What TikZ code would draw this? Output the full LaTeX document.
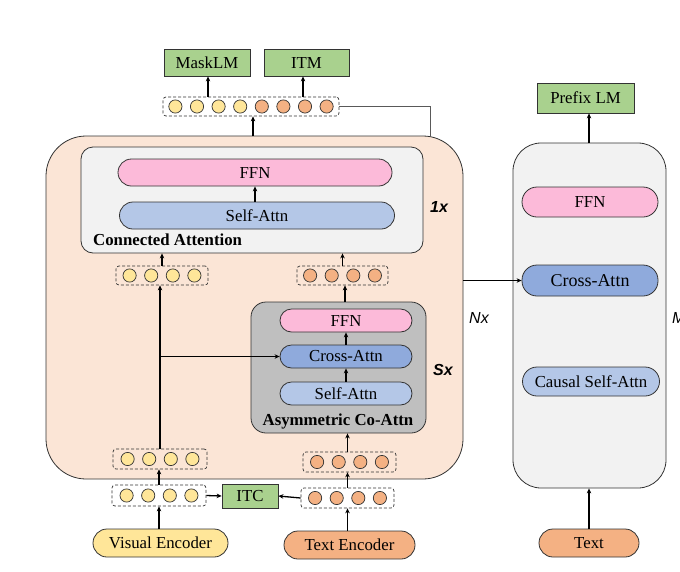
\documentclass[tikz,border=0pt]{standalone}
\usepackage{fontspec}
\setmainfont{Liberation Serif}
\newfontfamily\arialf{Liberation Sans}
\usetikzlibrary{arrows.meta,calc}
\definecolor{salmon}{HTML}{FBE5D6}
\definecolor{lgray}{HTML}{F2F2F2}
\definecolor{mgray}{HTML}{BFBFBF}
\definecolor{pinkc}{HTML}{FCBAD9}
\definecolor{lblue}{HTML}{B4C7E7}
\definecolor{mblue}{HTML}{8FAADC}
\definecolor{grn}{HTML}{A9D18E}
\definecolor{yel}{HTML}{FFE699}
\definecolor{org}{HTML}{F4B183}
\definecolor{edge}{HTML}{333333}
\begin{document}
\begin{tikzpicture}[x=1pt,y=-1pt,
  box/.style={draw=edge, line width=0.8pt, inner sep=0pt, font=\fontsize{16.8}{19}\selectfont},
  sqbox/.style={box, fill=grn},
  pill/.style={box, rounded corners=#1},
  tokrow/.style={draw=edge, line width=0.7pt, dash pattern=on 3pt off 2pt, rounded corners=3pt, inner sep=0pt},
  tok/.style={draw=edge, line width=0.7pt},
  arr/.style={line width=1.3pt, -{Stealth[length=5pt,width=4.5pt]}},
  lbl/.style={font=\bfseries\fontsize{16.8}{19}\selectfont, inner sep=0pt},
  rep/.style={font=\arialf\bfseries\itshape\fontsize{16}{19}\selectfont, inner sep=0pt}
]
\useasboundingbox (0,0) rectangle (680,571);

% ---------- outer blocks ----------
\node[pill=40pt, fill=salmon, minimum width=417pt, minimum height=343pt] (outer) at (254.5,307.5) {};
\node[pill=28pt, fill=lgray, minimum width=153pt, minimum height=345pt] (panel) at (589.5,315.5) {};

% ---------- connected attention ----------
\node[pill=12pt, fill=lgray, minimum width=342pt, minimum height=106pt] (cabox) at (252,200) {};
\node[pill=13.5pt, fill=pinkc, minimum width=274pt, minimum height=27pt] (ffn1) at (255,172.5) {FFN};
\node[pill=13.5pt, fill=lblue, minimum width=275pt, minimum height=27pt] (sa1) at (257,215.5) {Self-Attn};
\node[lbl, anchor=west] (calbl) at (93,239.5) {Connected Attention};
\node[rep] (onex) at (439,207) {1x};

% ---------- asymmetric co-attn ----------
\node[pill=15pt, fill=mgray, minimum width=175pt, minimum height=131pt] (cobox) at (338.5,367.5) {};
\node[pill=11.5pt, fill=pinkc, minimum width=132pt, minimum height=23pt] (ffn2) at (346,320.5) {FFN};
\node[pill=11.5pt, fill=mblue, minimum width=132pt, minimum height=23pt] (ca2) at (346,356.5) {Cross-Attn};
\node[pill=11.5pt, fill=lblue, minimum width=132pt, minimum height=23pt] (sa2) at (346,393.5) {Self-Attn};
\node[lbl] (colbl) at (338,421) {Asymmetric Co-Attn};
\node[rep] (sx) at (443,370) {Sx};
\node[font=\arialf\itshape\fontsize{16}{19}\selectfont, inner sep=0pt] (nx) at (479,318) {Nx};
\node[font=\arialf\itshape\fontsize{16}{19}\selectfont, inner sep=0pt, anchor=west] (mx) at (672,318) {Mx};

% ---------- right panel ----------
\node[pill=15pt, fill=pinkc, minimum width=136pt, minimum height=30pt] (ffn3) at (590,202) {FFN};
\node[pill=15pt, fill=mblue, minimum width=136pt, minimum height=31pt, font=\fontsize{18}{20}\selectfont] (ca3) at (590,280.5) {Cross-Attn};
\node[pill=14.5pt, fill=lblue, minimum width=137pt, minimum height=29pt] (csa3) at (591,381.5) {Causal Self-Attn};
\node[sqbox, minimum width=97pt, minimum height=30pt] (prefix) at (585.5,98) {Prefix LM};
\node[pill=14pt, fill=org, minimum width=100pt, minimum height=28pt] (text) at (589,543) {Text};

% ---------- heads ----------
\node[sqbox, minimum width=86pt, minimum height=27pt] (mlm) at (207,62.5) {MaskLM};
\node[sqbox, minimum width=85pt, minimum height=27pt] (itm) at (306.5,62.5) {ITM};
\node[sqbox, minimum width=56pt, minimum height=24pt] (itc) at (250,496) {ITC};

% ---------- encoders ----------
\node[pill=14pt, fill=yel, minimum width=135pt, minimum height=28pt] (venc) at (160.5,543) {Visual Encoder};
\node[pill=14pt, fill=org, minimum width=131pt, minimum height=28pt] (tenc) at (349.5,545) {Text Encoder};

% ---------- token rows ----------
\node[tokrow, minimum width=176pt, minimum height=19pt] (top) at (251,106.5) {};
\foreach \o/\c in {-75.6/yel,-54/yel,-32.4/yel,-10.8/yel,10.8/org,32.4/org,54/org,75.6/org}
  \draw[tok, fill=\c] ($(top)+(\o,0)$) circle (6.6);

\node[tokrow, minimum width=92pt, minimum height=19pt] (l2) at (162,275.5) {};
\node[tokrow, minimum width=91pt, minimum height=19pt] (r2) at (342.5,275.5) {};
\node[tokrow, minimum width=94pt, minimum height=20pt] (l1) at (160,459) {};
\node[tokrow, minimum width=93pt, minimum height=20pt] (r1) at (349.5,462) {};
\node[tokrow, minimum width=94pt, minimum height=21pt] (l0) at (159,495.5) {};
\node[tokrow, minimum width=93pt, minimum height=20pt] (r0) at (347.5,498) {};
\foreach \n in {l2,l1,l0}
  \foreach \o in {-32.4,-10.8,10.8,32.4}
    \draw[tok, fill=yel] ($(\n)+(\o,0)$) circle (6.6);
\foreach \n in {r2,r1,r0}
  \foreach \o in {-32.4,-10.8,10.8,32.4}
    \draw[tok, fill=org] ($(\n)+(\o,0)$) circle (6.6);

% ---------- connectors ----------
\draw[arr] (venc.north -| l0.south) -- (l0.south);
\draw[arr] (l0.north) -- (l0.north |- l1.south);
\draw[arr] (tenc.north -| r0.south) -- (r0.south);
\draw[arr] (r0.north) -- (r0.north |- r1.south);
\draw[arr] (l0.east) -- (itc.west);
\draw[arr] (r0.west) -- (itc.east);

\draw[arr] (l1.north) -- (l1.north |- l2.south);
\draw[arr] (l1.north |- ca2.west) -- (ca2.west);
\coordinate (r1up) at (347.5,452);
\draw[arr] (r1up) -- (r1up |- cobox.south);
\draw[arr] (sa2.north) -- (ca2.south);
\draw[arr] (ca2.north) -- (ffn2.south);
\coordinate (coup) at (345,302);
\draw[arr] (coup) -- (coup |- r2.south);

\draw[arr] (l2.north) -- (l2.north |- cabox.south);
\draw[arr] (r2.north) -- (r2.north |- cabox.south);
\draw[arr] (ffn1.south |- sa1.north) -- (ffn1.south);

\coordinate (outup) at (253,136);
\draw[arr] (outup) -- (outup |- top.south);
\coordinate (mlmup) at (208,97);
\draw[arr] (mlmup) -- (mlmup |- mlm.south);
\coordinate (itmup) at (303,97);
\draw[arr] (itmup) -- (itmup |- itm.south);
\coordinate (tap) at (430,137);
\draw[draw=black!65, line width=1pt] (top.east) -| (tap);

\draw[arr, line width=1pt] (outer.east |- ca3.west) -- (ca3.west);
\draw[arr] (text.north) -- (text.north |- panel.south);
\coordinate (panup) at (589,143);
\draw[arr] (panup) -- (panup |- prefix.south);
\end{tikzpicture}
\end{document}
